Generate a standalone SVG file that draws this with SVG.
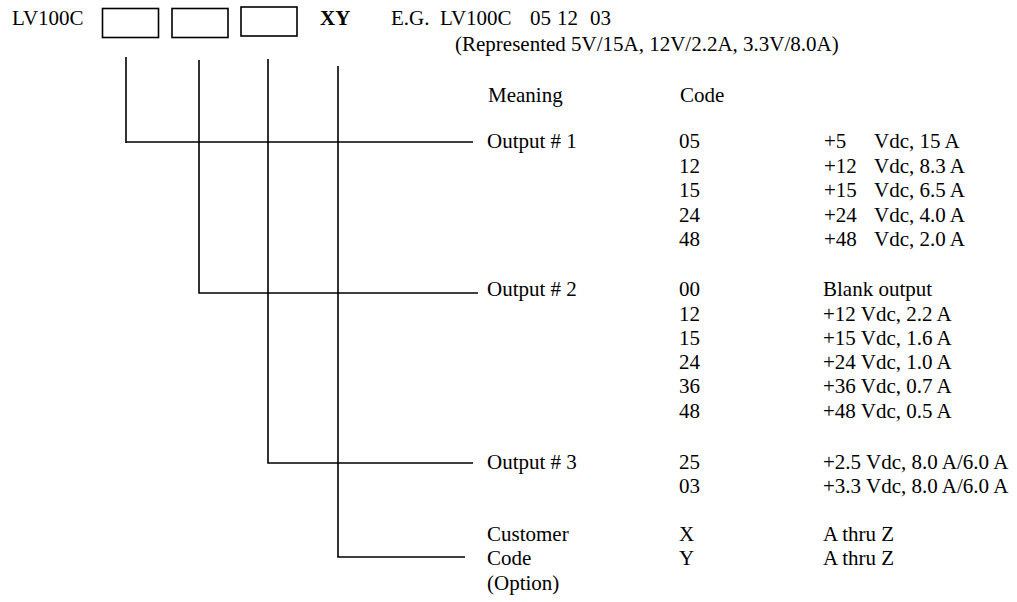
<svg xmlns="http://www.w3.org/2000/svg" width="1017" height="602" viewBox="0 0 1017 602">
<style>
text{font-family:"Liberation Serif","Times New Roman",serif;font-size:21px;fill:#000}
.b{font-weight:bold}
.ln{stroke:#000;stroke-width:1.6;fill:none}
.box{stroke:#000;stroke-width:1.6;fill:#fff}
</style>
<rect width="1017" height="602" fill="#fff"/>
<g id="header">
<text x="12" y="25">LV100C</text>
<rect class="box" x="102.5" y="8.5" width="56" height="29"/>
<rect class="box" x="172" y="8.5" width="56" height="29"/>
<rect class="box" x="241" y="7" width="56" height="29"/>
<text class="b" x="320" y="25">XY</text>
<text x="391" y="25">E.G.</text>
<text x="440" y="25">LV100C</text>
<text x="530" y="25">05</text>
<text x="557" y="25">12</text>
<text x="590" y="25">03</text>
<text x="455" y="51">(Represented 5V/15A, 12V/2.2A, 3.3V/8.0A)</text>
<text x="488" y="102">Meaning</text>
<text x="680" y="102">Code</text>
</g>
<g id="connectors">
<path class="ln" d="M126,57 V143 M126,142 H473"/>
<path class="ln" d="M199,60 V293 H478"/>
<path class="ln" d="M268,59 V463 H473"/>
<path class="ln" d="M338,66 V557 H465"/>
</g>
<g id="output1">
<text x="487" y="148">Output # 1</text>
<text x="679" y="148">05</text>
<text x="679" y="172.5">12</text>
<text x="679" y="197">15</text>
<text x="679" y="221.5">24</text>
<text x="679" y="246">48</text>
<text x="824" y="148">+5</text>
<text x="824" y="172.5">+12</text>
<text x="824" y="197">+15</text>
<text x="824" y="221.5">+24</text>
<text x="824" y="246">+48</text>
<text x="874" y="148">Vdc, 15 A</text>
<text x="874" y="172.5">Vdc, 8.3 A</text>
<text x="874" y="197">Vdc, 6.5 A</text>
<text x="874" y="221.5">Vdc, 4.0 A</text>
<text x="874" y="246">Vdc, 2.0 A</text>
</g>
<g id="output2">
<text x="487" y="296">Output # 2</text>
<text x="679" y="296">00</text>
<text x="679" y="320.5">12</text>
<text x="679" y="345">15</text>
<text x="679" y="369">24</text>
<text x="679" y="393">36</text>
<text x="679" y="417.5">48</text>
<text x="823" y="296">Blank output</text>
<text x="823" y="320.5">+12 Vdc, 2.2 A</text>
<text x="823" y="345">+15 Vdc, 1.6 A</text>
<text x="823" y="369">+24 Vdc, 1.0 A</text>
<text x="823" y="393">+36 Vdc, 0.7 A</text>
<text x="823" y="417.5">+48 Vdc, 0.5 A</text>
</g>
<g id="output3">
<text x="487" y="469">Output # 3</text>
<text x="679" y="469">25</text>
<text x="679" y="493">03</text>
<text x="823" y="469">+2.5 Vdc, 8.0 A/6.0 A</text>
<text x="823" y="493">+3.3 Vdc, 8.0 A/6.0 A</text>
</g>
<g id="customer">
<text x="487" y="541">Customer</text>
<text x="487" y="565">Code</text>
<text x="487" y="590">(Option)</text>
<text x="679" y="541">X</text>
<text x="679" y="565">Y</text>
<text x="823" y="541">A thru Z</text>
<text x="823" y="565">A thru Z</text>
</g>
</svg>
